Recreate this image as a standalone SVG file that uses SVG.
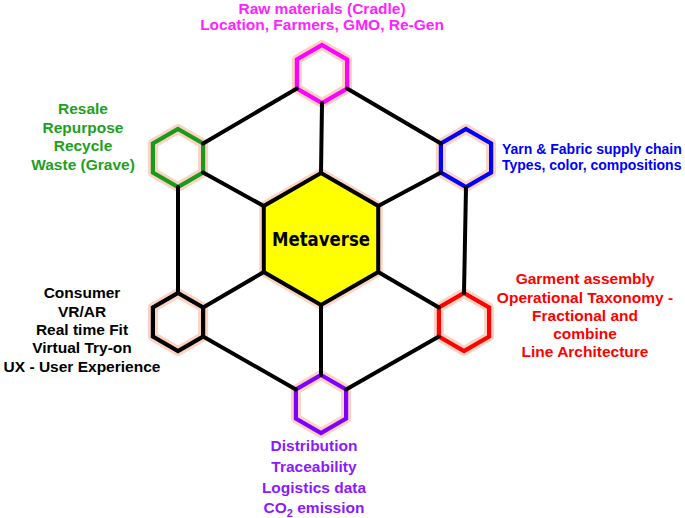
<svg xmlns="http://www.w3.org/2000/svg" width="685" height="518" viewBox="0 0 685 518">
<style>
.glow{fill:#fff;stroke:#fcd3c3;stroke-width:10;stroke-linejoin:round}
.edge{fill:none;stroke-width:4.2;stroke-linejoin:miter}
.conn line{stroke:#000;stroke-width:4;stroke-linecap:round}
text{font-family:"Liberation Sans",Arial,sans-serif;font-weight:bold;font-size:15.5px}
.c{text-anchor:middle}
</style>
<defs>
<polygon id="hex" points="0,-29 25.1,-14.5 25.1,14.5 0,29 -25.1,14.5 -25.1,-14.5"/>
</defs>
<rect width="685" height="518" fill="#fff"/>

<g id="center">
<polygon points="321,173 378.2,206 378.2,272 321,305 263.8,272 263.8,206" fill="#ffff00" stroke="#fcd3c3" stroke-width="9" stroke-linejoin="round"/>
<polygon points="321,173 378.2,206 378.2,272 321,305 263.8,272 263.8,206" fill="#ffff00" stroke="#000" stroke-width="4"/>
<text x="321" y="246" class="c" style="font-family:'Comic Sans MS','DejaVu Sans',sans-serif;font-size:19px" textLength="98" lengthAdjust="spacingAndGlyphs" fill="#000">Metaverse</text>
</g>

<g id="node-raw">
<use href="#hex" x="322" y="74" class="glow"/>
<use href="#hex" x="322" y="74" class="edge" stroke="#ff00ff"/>
<text class="c" fill="#ff22ff"><tspan x="322" y="14">Raw materials (Cradle)</tspan><tspan x="322" y="30">Location, Farmers, GMO, Re-Gen</tspan></text>
</g>

<g id="node-resale">
<use href="#hex" x="178" y="158" class="glow"/>
<use href="#hex" x="178" y="158" class="edge" stroke="#1a9a1a"/>
<text class="c" fill="#1ea01e"><tspan x="83" y="114">Resale</tspan><tspan x="83" y="132.5">Repurpose</tspan><tspan x="83" y="151">Recycle</tspan><tspan x="83" y="169.5">Waste (Grave)</tspan></text>
</g>

<g id="node-yarn">
<use href="#hex" x="466" y="158" class="glow"/>
<use href="#hex" x="466" y="158" class="edge" stroke="#0000ff"/>
<text fill="#0000ff" style="font-size:14px"><tspan x="502" y="154">Yarn &amp; Fabric supply chain</tspan><tspan x="502" y="169.5">Types, color, compositions</tspan></text>
</g>

<g id="node-consumer">
<use href="#hex" x="178" y="322" class="glow"/>
<use href="#hex" x="178" y="322" class="edge" stroke="#000"/>
<text class="c" fill="#000"><tspan x="82" y="298">Consumer</tspan><tspan x="82" y="316.5">VR/AR</tspan><tspan x="82" y="335">Real time Fit</tspan><tspan x="82" y="353">Virtual Try-on</tspan><tspan x="82" y="371.5">UX - User Experience</tspan></text>
</g>

<g id="node-garment">
<use href="#hex" x="464" y="322" class="glow"/>
<use href="#hex" x="464" y="322" class="edge" stroke="#ff0000"/>
<text class="c" fill="#ff0000"><tspan x="585" y="284">Garment assembly</tspan><tspan x="585" y="302.5">Operational Taxonomy -</tspan><tspan x="585" y="320.5">Fractional and</tspan><tspan x="585" y="338.5">combine</tspan><tspan x="585" y="357">Line Architecture</tspan></text>
</g>

<g id="node-distribution">
<use href="#hex" x="321" y="404" class="glow"/>
<use href="#hex" x="321" y="404" class="edge" stroke="#8000ff"/>
<text class="c" fill="#8a1aff"><tspan x="314" y="451">Distribution</tspan><tspan x="314" y="472">Traceability</tspan><tspan x="314" y="493">Logistics data</tspan><tspan x="314" y="513">CO<tspan dy="4" style="font-size:11px">2</tspan><tspan dy="-4"> emission</tspan></tspan></text>
</g>

<g id="connectors" class="conn">
<line x1="322" y1="103" x2="321" y2="173"/>
<line x1="296.9" y1="88.5" x2="203.1" y2="143.5"/>
<line x1="347.1" y1="88.5" x2="440.9" y2="143.5"/>
<line x1="203.1" y1="172.5" x2="263.8" y2="206"/>
<line x1="440.9" y1="172.5" x2="378.2" y2="206"/>
<line x1="178" y1="187" x2="178" y2="293"/>
<line x1="466" y1="187" x2="464" y2="293"/>
<line x1="203.1" y1="307.5" x2="263.8" y2="272"/>
<line x1="438.9" y1="307.5" x2="378.2" y2="272"/>
<line x1="203.1" y1="336.5" x2="295.9" y2="389.5"/>
<line x1="438.9" y1="336.5" x2="346.1" y2="389.5"/>
<line x1="321" y1="375" x2="321" y2="305"/>
</g>
</svg>
